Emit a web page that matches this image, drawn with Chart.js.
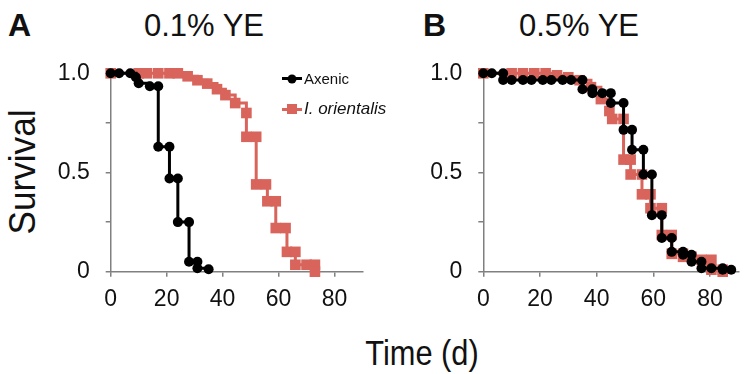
<!DOCTYPE html>
<html lang="en">
<head>
<meta charset="UTF-8">
<title>Survival</title>
<script src="https://cdn.jsdelivr.net/npm/chart.js"></script>
<style>
    body { margin: 0; background: #fff; }
    #wrap { position: relative; width: 750px; height: 374px; overflow: hidden; font-family: "Liberation Sans", Arial, sans-serif; color: #111; }
    canvas { position: absolute; }
    .lbl { position: absolute; white-space: nowrap; line-height: 1; }
    .panel { font-weight: bold; font-size: 32px; }
    .ttl { font-size: 31px; transform: translateX(-50%); }
    .leg { position: absolute; left: 282px; display: flex; align-items: center; }
    .leg .ln { position: relative; width: 20px; height: 3px; margin-right: 2px; }
    .leg .mk { position: absolute; left: 50%; top: 50%; transform: translate(-50%, -50%); }
</style>
</head>
<body>
<div id="wrap">
    <div class="lbl panel" style="left:8px; top:9px;">A</div>
    <div class="lbl panel" style="left:423px; top:9px;">B</div>
    <div class="lbl ttl" style="left:204px; top:10px;">0.1% YE</div>
    <div class="lbl ttl" style="left:579px; top:10px;">0.5% YE</div>
    <div class="lbl" style="left:22px; top:172px; font-size:37px; transform:translate(-50%,-50%) rotate(-90deg) scaleX(0.95);">Survival</div>
    <div class="lbl" style="left:422px; top:352px; font-size:35px; transform:translate(-50%,-50%) scaleX(0.88);">Time (d)</div>

    <canvas id="chartA" width="330" height="262" style="left:40px; top:60px;"></canvas>
    <canvas id="chartB" width="340" height="262" style="left:410px; top:60px;"></canvas>

    <div class="leg" style="top:70px; font-size:15px;">
        <span class="ln" style="background:#000;"><span class="mk" style="width:9px;height:9px;border-radius:50%;background:#000;"></span></span>
        <span>Axenic</span>
    </div>
    <div class="leg" style="top:99px; font-size:17px;">
        <span class="ln" style="background:#d8645c;"><span class="mk" style="width:10px;height:10px;background:#d8645c;"></span></span>
        <span style="font-style:italic;">I. orientalis</span>
    </div>
</div>

<script>
    // Kaplan-Meier curves, corner points (time in days, survival fraction)
    const axenicA_t = [0, 3, 7, 9, 10, 14, 17, 17, 21, 21, 24, 24, 28, 28, 31, 31, 35];
    const axenicA_s = [1, 1, 1, 0.98, 0.95, 0.935, 0.935, 0.63, 0.63, 0.47, 0.47, 0.25, 0.25, 0.05, 0.05, 0.017, 0.012];

    const orientA_t = [0, 10, 13, 17, 21, 24, 27.5, 31, 34.5, 38, 41, 44.5, 48.5, 48.5, 52, 52, 55.5, 56, 59, 59, 62.5, 63, 66, 66, 70, 73, 73];
    const orientA_s = [1, 1, 1, 1, 1, 1, 0.985, 0.965, 0.948, 0.92, 0.89, 0.85, 0.80, 0.68, 0.68, 0.44, 0.44, 0.355, 0.355, 0.22, 0.22, 0.10, 0.10, 0.035, 0.035, 0.035, 0];

    const axenicB_t = [0, 3, 7, 7, 10, 14, 17, 21, 24, 28, 31, 35, 35, 38.5, 38.5, 42, 45, 45, 49.5, 49.5, 52.5, 52.5, 56.5, 56.5, 59.5, 59.5, 63, 63, 66.5, 66.5, 70.5, 70.5, 73.5, 73.5, 77, 77, 80.5, 84.5, 84.5, 87.5];
    const axenicB_s = [1, 1, 1, 0.966, 0.966, 0.966, 0.966, 0.966, 0.966, 0.966, 0.966, 0.966, 0.92, 0.92, 0.90, 0.90, 0.90, 0.85, 0.85, 0.715, 0.715, 0.615, 0.615, 0.49, 0.49, 0.285, 0.285, 0.17, 0.17, 0.10, 0.10, 0.085, 0.085, 0.05, 0.05, 0.017, 0.017, 0.017, 0.01, 0.01];

    const orientB_t = [0, 10, 14, 18, 22, 26, 30, 34, 38, 41.5, 44.5, 45.5, 49.5, 49.5, 52, 52, 56, 56, 59, 59, 63, 63, 66.5, 66.5, 70.5, 70.5, 73.5, 77, 80.5, 80.5, 84.5, 84.5];
    const orientB_s = [1, 1, 1, 1, 1, 0.99, 0.98, 0.965, 0.93, 0.87, 0.81, 0.77, 0.77, 0.565, 0.565, 0.49, 0.49, 0.39, 0.39, 0.32, 0.32, 0.185, 0.185, 0.09, 0.09, 0.075, 0.075, 0.06, 0.06, 0.01, 0.01, 0];

    const xTicks = [0, 20, 40, 60, 80];
    const yLabels = { 0: '0', 0.5: '0.5', 1: '1.0' };

    const RED = '#d8645c';
    const AXIS = '#808080';
    const tickFont = { family: '"Liberation Sans", Arial, sans-serif', size: 23 };

    function pts(t, s) {
        return t.map((v, i) => ({ x: v, y: s[i] }));
    }

    function makeChart(id, black, red, yWidth, padRight) {
        return new Chart(document.getElementById(id), {
            type: 'line',
            data: {
                datasets: [
                    {
                        label: 'Axenic', data: black,
                        borderColor: '#000', backgroundColor: '#000', borderWidth: 3,
                        pointStyle: 'circle', pointRadius: 5, pointBorderWidth: 0,
                        stepped: true, clip: false
                    },
                    {
                        label: 'I. orientalis', data: red,
                        borderColor: RED, backgroundColor: RED, borderWidth: 3,
                        pointStyle: 'rect', pointRadius: 7.5, pointBorderWidth: 0,
                        stepped: true, clip: false
                    }
                ]
            },
            options: {
                responsive: false,
                animation: false,
                events: [],
                layout: { padding: { top: 13.3, right: padRight, left: 0, bottom: 0 } },
                plugins: { legend: { display: false }, tooltip: { enabled: false } },
                scales: {
                    x: {
                        type: 'linear', min: 0, max: 90,
                        afterBuildTicks: s => { s.ticks = xTicks.map(v => ({ value: v })); },
                        ticks: { font: tickFont, color: '#111', padding: 9, maxRotation: 0 },
                        grid: { drawOnChartArea: false, tickLength: 5, color: AXIS, lineWidth: 1.5 },
                        border: { color: AXIS, width: 1.5 },
                        afterFit: s => { s.height = 50.3; s.paddingLeft = 0; s.paddingRight = 0; }
                    },
                    y: {
                        min: 0, max: 1,
                        ticks: {
                            stepSize: 0.25, font: tickFont, color: '#111', padding: 16,
                            callback: v => yLabels[v] !== undefined ? yLabels[v] : ''
                        },
                        grid: { drawOnChartArea: false, tickLength: 5, color: AXIS, lineWidth: 1.5 },
                        border: { color: AXIS, width: 1.5 },
                        afterFit: s => { s.width = yWidth; s.paddingTop = 0; s.paddingBottom = 0; }
                    }
                }
            }
        });
    }

    makeChart('chartA', pts(axenicA_t, axenicA_s), pts(orientA_t, orientA_s), 70.7, 4);
    makeChart('chartB', pts(axenicB_t, axenicB_s), pts(orientB_t, orientB_s), 73.3, 11.7);
</script>
</body>
</html>
